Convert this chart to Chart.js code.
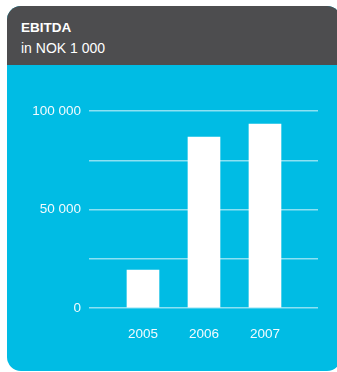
<!DOCTYPE html>
<html>
<head>
<meta charset="utf-8">
<script src="https://cdn.jsdelivr.net/npm/chart.js@4/dist/chart.umd.min.js"></script>
<style>
  html, body { margin: 0; padding: 0; background: #fff; width: 337px; height: 372px; overflow: hidden; }
  .panel {
    position: absolute; left: 7px; top: 6px; width: 334px; height: 365px;
    background: #00bce4; border-radius: 14px; overflow: hidden;
  }
  .head {
    height: 59px; background: #4d4d4f; color: #fff;
    font-family: "Liberation Sans", Arial, sans-serif; padding-left: 14px; box-sizing: border-box;
  }
  .head b { display: block; padding-top: 14px; font-size: 13.5px; line-height: 16px; }
  .head span { display: block; padding-top: 4px; font-size: 14px; line-height: 17px; }
  #wrap { position: absolute; left: 0; top: 65px; width: 337px; height: 307px; }
</style>
</head>
<body>
<div class="panel">
  <div class="head"><b>EBITDA</b><span>in NOK 1 000</span></div>
</div>
<div id="wrap"><canvas id="c"></canvas></div>
<script>
// EBITDA per year, NOK thousands
const years = [2005, 2006, 2007];
const ebitda = [19300, 86800, 93400];
const yTicks = [0, 25000, 50000, 75000, 100000];
const yLabels = { 0: "0", 50000: "50 000", 100000: "100 000" };

const font = { family: "'Liberation Sans', Arial, sans-serif", size: 13.5 };

new Chart(document.getElementById("c"), {
  type: "bar",
  data: {
    datasets: [{
      data: years.map((y, i) => ({ x: y, y: ebitda[i] })),
      backgroundColor: "#ffffff",
      borderWidth: 0,
      barThickness: 32
    }]
  },
  options: {
    responsive: true,
    maintainAspectRatio: false,
    animation: false,
    layout: { padding: { top: 46, right: 19, left: 0, bottom: 0 } },
    plugins: { legend: { display: false }, tooltip: { enabled: false } },
    scales: {
      x: {
        type: "linear",
        offset: false,
        min: 2004.115,
        max: 2007.869,
        grid: { display: false },
        border: { display: false },
        afterBuildTicks: (s) => { s.ticks = years.map(v => ({ value: v })); },
        afterFit: (s) => { s.height = 64; },
        ticks: { color: "#f2fbfe", font, padding: 10, callback: v => String(v) }
      },
      y: {
        min: 0,
        max: 100000,
        afterBuildTicks: (s) => { s.ticks = yTicks.map(v => ({ value: v })); },
        afterFit: (s) => { s.width = 89; },
        grid: { color: "rgba(255,255,255,0.55)", lineWidth: 1.5, drawTicks: false },
        border: { display: false },
        ticks: { color: "#f2fbfe", font, padding: 8, callback: v => yLabels[v] ?? "" }
      }
    }
  }
});
</script>
</body>
</html>
